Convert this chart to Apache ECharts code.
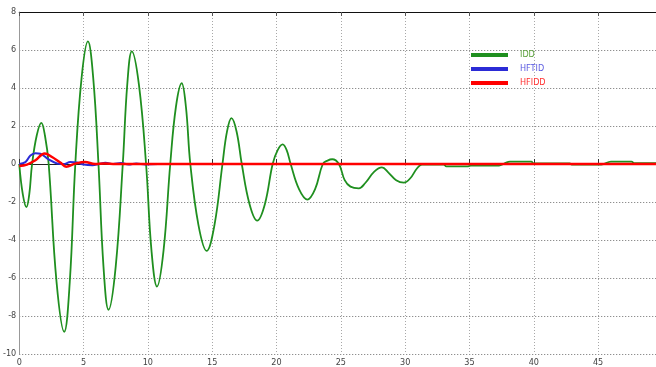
<!DOCTYPE html>
<html>
<head>
<meta charset="utf-8">
<script src="https://cdn.jsdelivr.net/npm/echarts@6/dist/echarts.min.js"></script>
<style>
  html, body { margin: 0; padding: 0; background: #fff; }
  #main { width: 656px; height: 367px; }
</style>
</head>
<body>
<div id="main"></div>
<script>
var myChart = echarts.init(document.getElementById('main'));

// IDD (green)
var iddT = [0, 0.28, 0.56, 0.78, 1.0, 1.36, 1.72, 2.0, 2.29, 2.9, 3.5, 3.93, 4.36, 4.85, 5.34, 5.75, 6.16,
    6.55, 6.94, 7.5, 8.05, 8.4, 8.75, 9.3, 9.86, 10.28, 10.71, 11.22, 11.74, 12.18, 12.63, 12.96, 13.3,
    13.93, 14.57, 15.18, 15.8, 16.15, 16.5, 16.9, 17.3, 17.9, 18.5, 19.1, 19.7, 20.09, 20.48, 20.79, 21.1,
    21.75, 22.4, 23.0, 23.6, 23.97, 24.33, 24.85, 25.3, 25.75, 26.4, 26.9, 27.6, 28.2, 28.7, 29.3, 29.9,
    30.4, 30.9, 31.3, 33.0, 33.2, 34.9, 35.1, 37.3, 37.7, 38.15, 39.8, 40.0, 42.8, 42.95, 45.25, 46.0,
    47.6, 47.8, 49.5];
var iddV = [0, -1.6, -2.27, -1.6, 0, 1.5, 2.16, 1.5, 0, -6.2, -8.83, -6.2, 0, 4.55, 6.45, 4.55, 0,
    -5.4, -7.67, -5.4, 0, 4.2, 5.93, 4.2, 0, -4.55, -6.45, -4.55, 0, 3.0, 4.25, 3.0, 0,
    -3.2, -4.57, -3.2, 0, 1.7, 2.41, 1.7, 0, -2.1, -2.98, -2.1, 0, 0.73, 1.03, 0.73, 0,
    -1.32, -1.87, -1.32, 0, 0.18, 0.25, 0, -0.85, -1.19, -1.28, -1.0, -0.4, -0.18, -0.45, -0.85, -0.98,
    -0.75, -0.25, -0.03, -0.03, -0.12, -0.12, -0.08, -0.08, 0.02, 0.13, 0.13, 0.03, 0.03, -0.03, -0.03, 0.13,
    0.13, 0.05, 0.05];

// HFTID (blue)
var hftidT = [0, 0.48, 0.87, 1.26, 1.64, 2.29, 2.94, 3.45, 3.97, 4.5, 5.0, 5.7, 6.2, 6.7, 7.3, 7.9, 8.5, 9.1, 9.8, 10.8];
var hftidV = [0, 0.1, 0.45, 0.57, 0.54, 0.24, 0.03, 0, 0.1, 0.08, -0.03, -0.07, 0, 0.06, 0, 0.05, -0.03, 0.03, -0.02, 0];

// HFIDD (red)
var hfiddT = [0, 0.6, 1.26, 1.98, 2.55, 3.19, 3.65, 4.36, 5.1, 5.9, 6.6, 7.5, 49.5];
var hfiddV = [-0.1, -0.03, 0.2, 0.55, 0.37, 0.08, -0.14, 0.02, 0.11, 0.0, 0.02, 0, 0];

var seriesNames = ['IDD', 'HFTID', 'HFIDD'];
var lineColors = ['#1f8f1f', '#2b2bd6', '#ff0000'];
var textColors = ['#5aa03a', '#5a5ae0', '#ff3030'];

function pairs(t, v) {
    return t.map(function (x, i) { return [x, v[i]]; });
}

var labelFont = "'Liberation Sans Narrow', 'DejaVu Sans Condensed', sans-serif";

var option = {
    animation: false,
    grid: {
        left: 18,
        right: 0,
        top: 12,
        bottom: 10
    },
    legend: {
        orient: 'vertical',
        left: 471,
        top: 50,
        padding: 0,
        icon: 'rect',
        itemWidth: 37,
        itemHeight: 4,
        itemGap: 4,
        textStyle: {
            fontSize: 9,
            lineHeight: 10,
            fontFamily: labelFont,
            padding: [0, 0, 0, 7]
        },
        data: seriesNames.map(function (n, i) {
            return { name: n, textStyle: { color: textColors[i] } };
        })
    },
    xAxis: [{
        type: 'value',
        min: 0,
        max: 49.5,
        interval: 5,
        axisLine: { show: true, lineStyle: { color: '#222', width: 1 } },
        axisTick: { show: true, inside: true, length: 5, lineStyle: { color: '#333' } },
        axisLabel: { color: '#444', fontSize: 9, margin: 4, fontFamily: labelFont, showMaxLabel: false },
        splitLine: { show: true, lineStyle: { color: '#a8a8a8', type: [1, 2], width: 1 } }
    }, {
        type: 'value',
        position: 'top',
        min: 0,
        max: 49.5,
        interval: 5,
        axisLine: { show: true, lineStyle: { color: '#111', width: 1 } },
        axisTick: { show: true, inside: true, length: 4, lineStyle: { color: '#555' } },
        axisLabel: { show: false },
        splitLine: { show: false }
    }],
    yAxis: {
        type: 'value',
        min: -10,
        max: 8,
        interval: 2,
        axisLine: { show: true, lineStyle: { color: '#999', width: 1 } },
        axisTick: { show: false },
        axisLabel: { color: '#444', fontSize: 9, margin: 3, fontFamily: labelFont },
        splitLine: { show: true, lineStyle: { color: '#707070', type: [1, 2], width: 1 } }
    },
    series: [{
        name: 'IDD',
        type: 'line',
        smooth: 0.4,
        symbol: 'none',
        color: lineColors[0],
        lineStyle: { width: 1.8, color: lineColors[0] },
        data: pairs(iddT, iddV),
        z: 2
    }, {
        name: 'HFTID',
        type: 'line',
        smooth: 0.4,
        symbol: 'none',
        color: lineColors[1],
        lineStyle: { width: 2, color: lineColors[1] },
        data: pairs(hftidT, hftidV),
        z: 3
    }, {
        name: 'HFIDD',
        type: 'line',
        smooth: 0.4,
        symbol: 'none',
        color: lineColors[2],
        lineStyle: { width: 2.5, color: lineColors[2] },
        data: pairs(hfiddT, hfiddV),
        z: 4
    }]
};

myChart.setOption(option);
</script>
</body>
</html>
